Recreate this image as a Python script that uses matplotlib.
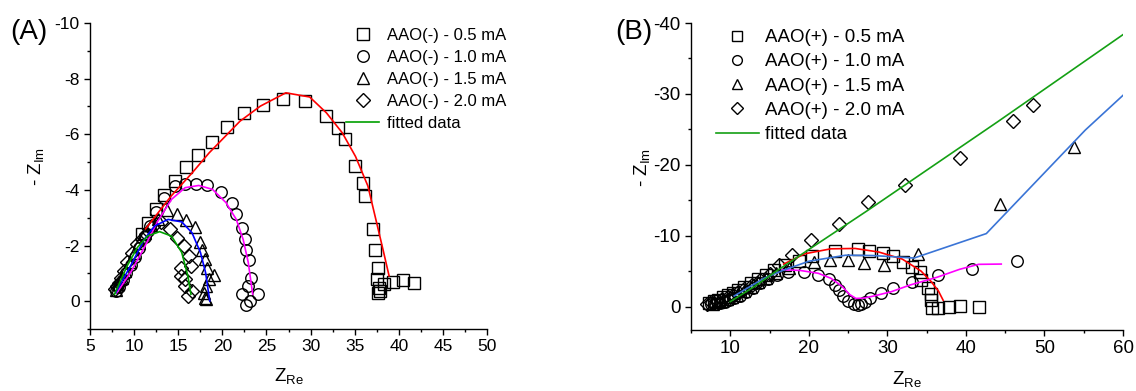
import matplotlib
matplotlib.use("Agg")
import matplotlib.pyplot as plt
from matplotlib.lines import Line2D
from matplotlib.ticker import MultipleLocator

plt.rcParams['font.family'] = ['Liberation Sans', 'DejaVu Sans']
plt.rcParams['axes.unicode_minus'] = False
plt.rcParams['mathtext.fontset'] = 'custom'
plt.rcParams['mathtext.rm'] = 'Liberation Sans'
plt.rcParams['mathtext.it'] = 'Liberation Sans'

# ---------------- Panel A data ----------------
A_sq_x = [10.95, 11.61, 12.50, 13.39, 14.63, 15.86, 17.21, 18.80, 20.54, 22.43, 24.56, 26.88, 29.35,
          31.71, 33.06, 33.95, 35.0, 35.96, 36.19, 37.04, 37.35, 37.62, 37.55, 37.74, 37.9, 37.7,
          38.32, 39.36, 40.52, 41.68]
A_sq_y = [-2.40, -2.80, -3.30, -3.80, -4.32, -4.82, -5.25, -5.72, -6.26, -6.75, -7.07, -7.28, -7.19,
          -6.67, -6.23, -5.84, -4.86, -4.26, -3.78, -2.58, -1.84, -1.21, -0.81, -0.49, -0.35, -0.3,
          -0.61, -0.69, -0.75, -0.67]

A_ci_x = [8.0, 8.3, 8.7, 9.1, 9.6, 10.1, 10.6, 11.2, 11.8, 12.5, 13.4, 14.6, 15.8, 17.0, 18.3, 19.8,
          21.1, 21.6, 22.2, 22.6, 22.7, 23.0, 23.3, 22.9, 22.2, 22.7, 23.1, 24.0]
A_ci_y = [-0.35, -0.5, -0.75, -1.0, -1.3, -1.6, -1.9, -2.3, -2.7, -3.2, -3.72, -4.14, -4.22, -4.23,
          -4.17, -3.94, -3.52, -3.15, -2.64, -2.25, -1.84, -1.48, -0.85, -0.55, -0.25, 0.14, -0.01, -0.25]

A_tr_x = [7.9, 8.2, 8.6, 9.0, 9.5, 10.0, 10.6, 11.2, 11.9, 12.7, 13.74, 14.82, 15.9, 16.87, 17.52,
          17.72, 18.03, 18.3, 19.07, 18.49, 18.1, 17.91, 17.99, 18.1]
A_tr_y = [-0.4, -0.6, -0.85, -1.1, -1.4, -1.75, -2.1, -2.45, -2.75, -2.95, -3.27, -3.12, -2.92, -2.67,
          -2.14, -1.84, -1.51, -1.21, -0.93, -0.79, -0.55, -0.31, -0.13, -0.07]

A_di_x = [7.86, 8.05, 8.25, 8.52, 8.83, 9.2, 9.79, 10.37, 10.9, 11.34, 12.19, 13.0, 14.05, 14.9,
          15.67, 16.25, 16.45, 15.32, 15.78, 15.32, 15.78, 16.56, 16.1]
A_di_y = [-0.43, -0.55, -0.67, -0.85, -1.09, -1.4, -1.75, -2.05, -2.25, -2.4, -2.7, -2.85, -2.58, -2.28,
          -1.99, -1.63, -1.27, -1.21, -0.79, -0.91, -0.55, -0.37, -0.2]

A_fit05_x = [11.3, 14.2, 16.6, 18.5, 22.0, 24.3, 27.2, 29.9, 31.8, 33.6, 35.1, 36.5, 37.4, 38.2, 38.9]
A_fit05_y = [-2.6, -3.78, -4.62, -5.33, -6.47, -7.01, -7.49, -7.34, -6.77, -6.05, -5.2, -4.14, -2.94, -1.87, -0.91]
A_fit10_x = [8.05, 9.6, 11.15, 12.69, 14.24, 15.78, 17.33, 18.88, 20.42, 21.58, 22.36, 22.94, 23.44]
A_fit10_y = [-0.31, -1.03, -1.93, -2.88, -3.66, -4.08, -4.16, -4.02, -3.54, -2.94, -2.22, -1.39, -0.25]
A_fit15_x = [7.9, 9.6, 11.15, 12.31, 13.85, 15.4, 16.56, 17.52, 18.1, 18.57]
A_fit15_y = [-0.3, -1.27, -2.22, -2.7, -2.94, -2.85, -2.46, -1.75, -1.03, -0.01]
A_fit20_x = [7.78, 9.21, 10.37, 11.53, 12.89, 14.24, 15.4, 16.09, 16.44]
A_fit20_y = [-0.25, -1.27, -1.93, -2.34, -2.5, -2.34, -1.75, -0.91, -0.25]

A_labels = ['AAO(-) - 0.5 mA', 'AAO(-) - 1.0 mA', 'AAO(-) - 1.5 mA', 'AAO(-) - 2.0 mA', 'fitted data']

# ---------------- Panel B data ----------------
B_sq_x = [7.3, 7.9, 8.5, 9.1, 9.7, 10.3, 11.0, 11.8, 12.6, 13.5, 14.5, 15.6, 17.0, 18.7, 20.4, 23.3,
          26.2, 27.7, 29.4, 30.7, 32.0, 33.2, 34.1, 34.3, 35.2, 35.5, 35.6, 35.7, 36.5, 37.9, 39.3, 41.7]
B_sq_y = [-0.5, -0.75, -1.0, -1.3, -1.6, -1.95, -2.3, -2.8, -3.3, -3.9, -4.5, -5.1, -5.8, -6.4, -7.1,
          -7.8, -8.1, -7.9, -7.6, -7.2, -6.3, -5.6, -4.9, -3.8, -2.6, -1.8, -1.0, 0.2, 0.2, 0.0, -0.1, 0.0]

B_ci_x = [7.5, 8.1, 8.7, 9.3, 9.9, 10.5, 11.2, 12.0, 12.9, 13.8, 14.8, 15.9, 17.4, 19.4, 21.2, 22.6,
          23.3, 23.8, 24.4, 25.0, 25.7, 26.2, 26.6, 27.2, 27.8, 29.2, 30.7, 33.2, 36.5, 40.8, 46.45]
B_ci_y = [-0.3, -0.4, -0.55, -0.7, -0.9, -1.15, -1.5, -2.0, -2.6, -3.3, -3.9, -4.4, -4.85, -4.9, -4.5,
          -3.9, -3.1, -2.3, -1.5, -0.8, -0.35, -0.2, -0.35, -0.6, -1.25, -1.85, -2.6, -3.4, -4.4, -5.3, -6.4]

B_tr_x = [7.8, 8.4, 9.0, 9.6, 10.2, 10.9, 11.7, 12.6, 13.5, 14.6, 15.8, 17.5, 20.6, 22.7, 25.0, 27.0,
          29.6, 33.9, 44.4, 53.7]
B_tr_y = [-0.4, -0.6, -0.8, -1.05, -1.35, -1.7, -2.2, -2.8, -3.4, -4.1, -4.8, -5.5, -6.3, -6.6, -6.6,
          -6.1, -5.9, -7.4, -14.5, -22.5]

B_di_x = [7.0, 7.6, 8.2, 8.9, 9.7, 10.4, 11.0, 11.8, 12.8, 13.8, 15.0, 16.2, 17.9, 20.3, 23.8, 27.5,
          32.2, 39.2, 46.0, 48.6]
B_di_y = [-0.4, -0.6, -0.8, -1.05, -1.3, -1.6, -2.0, -2.45, -3.05, -3.75, -4.6, -5.8, -7.3, -9.4,
          -11.7, -14.8, -17.1, -21.0, -26.2, -28.4]

B_fit05_x = [16.8, 19.5, 22.8, 25.9, 28.9, 31.9, 34.3, 35.6, 36.5, 37.1]
B_fit05_y = [-6.0, -7.45, -8.15, -8.2, -7.7, -6.7, -5.0, -3.5, -2.2, -0.9]
B_fit10_x = [16.6, 18.9, 21.2, 22.8, 24.2, 25.2, 26.0, 27.0, 28.3, 30.5, 32.9, 36.3, 39.2, 41.6, 44.5]
B_fit10_y = [-5.2, -5.1, -4.7, -4.0, -2.9, -1.7, -1.15, -1.2, -1.5, -2.1, -3.05, -4.13, -5.26, -5.96, -6.0]
B_fit15_x = [10.5, 14.3, 16.7, 20.0, 24.7, 28.2, 33.4, 42.6, 55.2, 60.0]
B_fit15_y = [-1.5, -4.0, -5.1, -6.4, -7.25, -7.2, -6.85, -10.3, -24.9, -29.8]
B_fit20_x = [10.0, 13.05, 15.95, 27.57, 44.03, 60.0]
B_fit20_y = [-0.7, -2.82, -5.07, -13.62, -26.06, -38.36]

B_labels = ['AAO(+) - 0.5 mA', 'AAO(+) - 1.0 mA', 'AAO(+) - 1.5 mA', 'AAO(+) - 2.0 mA', 'fitted data']

W, H = 1136, 391
fig = plt.figure(figsize=(W / 100, H / 100), dpi=100)


def frac_axes(l, r, t, b):
    return fig.add_axes([l / W, 1 - b / H, (r - l) / W, (b - t) / H])


def style_axes(ax, fs):
    for s in ('top', 'right'):
        ax.spines[s].set_visible(False)
    for s in ('left', 'bottom'):
        ax.spines[s].set_linewidth(1.0)
    ax.tick_params(which='major', direction='out', length=4, width=1.0, labelsize=fs, pad=3.5)
    ax.tick_params(which='minor', direction='out', length=2.3, width=1.0)


mk = dict(linestyle='none', mfc='none', mec='black', mew=1.0)
fitlw = 1.2
SQ, CI, TR, DI = 8.0, 8.3, 8.8, 6.8

# ---------------- Panel A ----------------
axA = frac_axes(90, 487, 23, 329)
axA.plot(A_sq_x, A_sq_y, marker='s', ms=SQ, **mk)
axA.plot(A_ci_x, A_ci_y, marker='o', ms=CI, **mk)
axA.plot(A_tr_x, A_tr_y, marker='^', ms=TR, **mk)
axA.plot(A_di_x, A_di_y, marker='D', ms=DI, **mk)
axA.plot(A_fit05_x, A_fit05_y, color='#ff0000', lw=fitlw)
axA.plot(A_fit10_x, A_fit10_y, color='#ff00ff', lw=fitlw)
axA.plot(A_fit15_x, A_fit15_y, color='#0000ff', lw=fitlw)
axA.plot(A_fit20_x, A_fit20_y, color='#00a000', lw=fitlw)
axA.set_xlim(5, 50)
axA.set_ylim(1, -10)
axA.xaxis.set_major_locator(MultipleLocator(5))
axA.xaxis.set_minor_locator(MultipleLocator(2.5))
axA.yaxis.set_major_locator(MultipleLocator(2))
axA.yaxis.set_minor_locator(MultipleLocator(1))
style_axes(axA, 12.5)
axA.set_xlabel(r'Z$_{\mathrm{Re}}$', fontsize=13.5, labelpad=8)
axA.set_ylabel(r'- Z$_{\mathrm{Im}}$', fontsize=13.5)
axA.yaxis.set_label_coords(-0.11, 0.53)

handlesA = [Line2D([], [], marker='s', ms=SQ, **mk),
            Line2D([], [], marker='o', ms=CI, **mk),
            Line2D([], [], marker='^', ms=TR, **mk),
            Line2D([], [], marker='D', ms=DI, **mk),
            Line2D([], [], color='#00a000', lw=fitlw)]
axA.legend(handlesA, A_labels, loc='upper right', bbox_to_anchor=(1.065, 1.005), frameon=False,
           fontsize=12, handlelength=2.0, handletextpad=0.45, labelspacing=0.42, borderaxespad=0)
fig.text(10 / W, 1 - 32 / H, '(A)', fontsize=20, va='center', ha='left')

# ---------------- Panel B ----------------
axB = frac_axes(691, 1123, 23, 330)
axB.plot(B_sq_x, B_sq_y, marker='s', ms=SQ, **mk)
axB.plot(B_ci_x, B_ci_y, marker='o', ms=CI, **mk)
axB.plot(B_tr_x, B_tr_y, marker='^', ms=TR, **mk)
axB.plot(B_di_x, B_di_y, marker='D', ms=DI, **mk)
axB.plot(B_fit05_x, B_fit05_y, color='#ff0000', lw=fitlw)
axB.plot(B_fit10_x, B_fit10_y, color='#ff00ff', lw=fitlw)
axB.plot(B_fit15_x, B_fit15_y, color='#3a74d6', lw=fitlw)
axB.plot(B_fit20_x, B_fit20_y, color='#14a014', lw=fitlw)
axB.set_xlim(5, 60)
axB.set_ylim(3.3, -40)
axB.xaxis.set_major_locator(MultipleLocator(10))
axB.xaxis.set_minor_locator(MultipleLocator(5))
axB.yaxis.set_major_locator(MultipleLocator(10))
axB.yaxis.set_minor_locator(MultipleLocator(5))
style_axes(axB, 13.5)
axB.set_xlabel(r'Z$_{\mathrm{Re}}$', fontsize=13.5, labelpad=8)
axB.set_ylabel(r'- Z$_{\mathrm{Im}}$', fontsize=13.5)
axB.yaxis.set_label_coords(-0.09, 0.53)

handlesB = [Line2D([], [], marker='s', ms=6.5, **mk),
            Line2D([], [], marker='o', ms=7, **mk),
            Line2D([], [], marker='^', ms=7.5, **mk),
            Line2D([], [], marker='D', ms=5.8, **mk),
            Line2D([], [], color='#14a014', lw=fitlw)]
axB.legend(handlesB, B_labels, loc='upper left', bbox_to_anchor=(0.04, 1.005), frameon=False,
           fontsize=13.5, handlelength=2.3, handletextpad=0.35, labelspacing=0.38, borderaxespad=0)
fig.text(615 / W, 1 - 32 / H, '(B)', fontsize=20, va='center', ha='left')

fig.savefig('out.png', dpi=100)
